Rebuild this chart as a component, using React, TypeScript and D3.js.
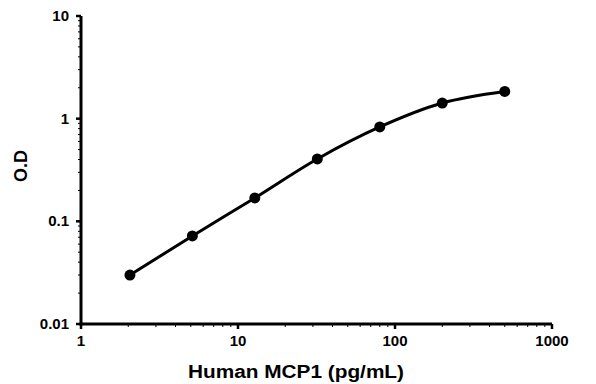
import * as d3 from 'd3'

// standard curve points (concentration pg/mL, O.D)
const conc = [2.05, 5.12, 12.8, 32, 80, 200, 500]
const od = [0.030, 0.072, 0.169, 0.405, 0.83, 1.42, 1.84]
const xTicks = [1, 10, 100, 1000]
const yTicks = [0.01, 0.1, 1, 10]
const yTickLabels = ['0.01', '0.1', '1', '10']

const W = 596
const H = 384
const margin = { top: 16, right: 44, bottom: 60, left: 81 }
const FONT = '"Liberation Sans", Arial, sans-serif'

function minorTicks(lo: number, hi: number) {
  const out: number[] = []
  for (let d = lo; d < hi; d *= 10) for (let k = 2; k <= 9; k++) out.push(d * k)
  return out
}

export default function App() {
  const innerW = W - margin.left - margin.right
  const innerH = H - margin.top - margin.bottom
  const x = d3.scaleLog().domain([1, 1000]).range([0, innerW])
  const y = d3.scaleLog().domain([0.01, 10]).range([innerH, 0])

  const line = d3.line<number>()
    .x((_, i) => x(conc[i]))
    .y(d => y(d))
    .curve(d3.curveMonotoneX)

  return (
    <div style={{ position: 'fixed', left: 0, top: 0, width: W, height: H, background: '#fff' }}>
      <svg width={W} height={H} style={{ display: 'block' }}>
        <g transform={`translate(${margin.left},${margin.top})`} fontFamily={FONT} fontWeight="bold">
          {/* minor ticks */}
          {minorTicks(1, 1000).map(v => (
            <line key={'mx' + v} x1={x(v)} x2={x(v)} y1={innerH} y2={innerH + 3} stroke="#000" strokeWidth={1} />
          ))}
          {minorTicks(0.01, 10).map(v => (
            <line key={'my' + v} x1={-3} x2={0} y1={y(v)} y2={y(v)} stroke="#000" strokeWidth={1} />
          ))}
          {/* major ticks */}
          {xTicks.map(v => (
            <g key={'x' + v}>
              <line x1={x(v)} x2={x(v)} y1={innerH} y2={innerH + 5} stroke="#000" strokeWidth={2.5} />
              <text x={x(v)} y={innerH + 22} textAnchor="middle" fontSize={15}>{v}</text>
            </g>
          ))}
          {yTicks.map((v, i) => (
            <g key={'y' + v}>
              <line x1={-5} x2={0} y1={y(v)} y2={y(v)} stroke="#000" strokeWidth={2.5} />
              <text x={-12} y={y(v) + 5} textAnchor="end" fontSize={15}>{yTickLabels[i]}</text>
            </g>
          ))}
          {/* axes lines */}
          <line x1={0} x2={0} y1={0} y2={innerH + 1.5} stroke="#000" strokeWidth={3} />
          <line x1={-1.5} x2={innerW} y1={innerH} y2={innerH} stroke="#000" strokeWidth={3} />

          {/* curve */}
          <path d={line(od) ?? ''} fill="none" stroke="#000" strokeWidth={3} />
          {od.map((v, i) => (
            <circle key={i} cx={x(conc[i])} cy={y(v)} r={5.5} fill="#000" />
          ))}

          {/* axis titles */}
          <text x={296 - margin.left} y={innerH + 54} textAnchor="middle" fontSize={18}
            textLength={216} lengthAdjust="spacingAndGlyphs">Human MCP1 (pg/mL)</text>
          <text transform={`translate(-54,${166 - margin.top}) rotate(-90)`} textAnchor="middle" fontSize={18}>O.D</text>
        </g>
      </svg>
    </div>
  )
}
